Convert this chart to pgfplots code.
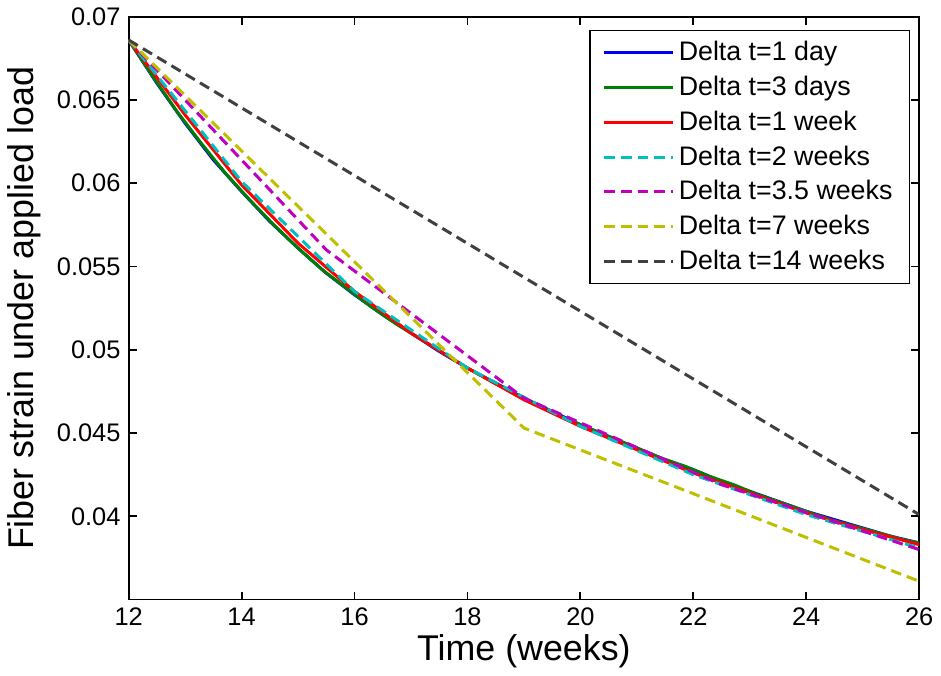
\documentclass[border=0pt]{standalone}
\usepackage{fontspec}
\setmainfont{Liberation Sans}
\usepackage{pgfplots}
\pgfplotsset{compat=1.18}

\definecolor{mblue}{rgb}{0,0,1}
\definecolor{mgreen}{rgb}{0,0.5,0}
\definecolor{mred}{rgb}{1,0,0}
\definecolor{mcyan}{rgb}{0,0.75,0.75}
\definecolor{mmagenta}{rgb}{0.75,0,0.75}
\definecolor{myellow}{rgb}{0.75,0.75,0}
\definecolor{mgray}{rgb}{0.25,0.25,0.25}

\begin{document}
\begin{tikzpicture}
\begin{axis}[
  width=12.03cm, height=8.87cm, scale only axis,
  xmin=12, xmax=26, ymin=0.035, ymax=0.07,
  xtick={12,14,...,26},
  ytick={0.04,0.045,0.05,0.055,0.06,0.065,0.07},
  yticklabels={0.04,0.045,0.05,0.055,0.06,0.065,0.07},
  scaled y ticks=false,
  tick align=inside, major tick length=0.12cm,
  axis line style={line width=0.8pt},
  every tick/.style={black, line width=0.8pt},
  /pgf/number format/assume math mode=true,
  tick label style={font=\fontsize{11}{13}\selectfont},
  label style={font=\fontsize{15.5}{18}\selectfont},
  xlabel={Time (weeks)},
  ylabel={Fiber strain under applied load},
  xlabel style={yshift=3pt},
  legend style={at={(0.989,0.978)}, anchor=north east, draw=black,
    line width=0.6pt, fill=white, font=\fontsize{11.6}{14}\selectfont,
    row sep=1.1pt, inner xsep=5.5pt, inner ysep=2.6pt},
  legend cell align=left,
  legend style={cells={text height=8.5pt, text depth=2.5pt, inner ysep=3.6pt}},
  legend image code/.code={\draw[#1] (0cm,0cm) -- (1.04cm,0cm);},
  every axis plot/.append style={line width=1.3pt},
  mdash/.style={dash pattern=on 4.6pt off 2.6pt},
]
% Delta t = 1 day
\addplot[mblue] coordinates {
(12,0.0686)(12.5,0.0660)(13,0.0636)(13.5,0.0614)(14,0.0595)(14.5,0.0577)
(15,0.0561)(15.5,0.0546)(16,0.0533)(16.5,0.0521)(17,0.0510)(17.5,0.0499)
(18,0.0489)(18.5,0.0480)(19,0.0471)(19.5,0.0463)(20,0.0455)(20.5,0.0448)
(21,0.0441)(21.5,0.0434)(22,0.0428)(22.5,0.0421)(23,0.0415)(23.5,0.0409)
(24,0.0403)(24.5,0.0398)(25,0.0393)(25.5,0.0388)(26,0.0384)
};
\addlegendentry{Delta t=1 day}
% Delta t = 3 days
\addplot[mgreen] coordinates {
(12,0.0686)(12.429,0.0664)(12.857,0.0643)(13.286,0.0624)(13.714,0.0606)
(14.143,0.0590)(14.571,0.0575)(15,0.0561)(15.429,0.0548)(15.857,0.0537)
(16.286,0.0526)(16.714,0.0516)(17.143,0.0507)(17.571,0.0498)(18,0.0489)
(18.429,0.0481)(18.857,0.0473)(19.286,0.0466)(19.714,0.0459)(20.143,0.0453)
(20.571,0.0447)(21,0.0441)(21.429,0.0435)(21.857,0.0430)(22.286,0.0424)
(22.714,0.0419)(23.143,0.0413)(23.571,0.0408)(24,0.0403)(24.429,0.0398)
(24.857,0.0394)(25.286,0.0390)(25.714,0.0386)(26,0.0384)
};
\addlegendentry{Delta t=3 days}
% Delta t = 1 week
\addplot[mred] coordinates {
(12,0.0686)(13,0.0641)(14,0.0599)(15,0.0564)(16,0.0535)(17,0.0510)
(18,0.0489)(19,0.0470)(20,0.0454)(21,0.0440)(22,0.0426)(23,0.0414)
(24,0.0402)(25,0.0392)(26,0.0383)
};
\addlegendentry{Delta t=1 week}
% Delta t = 2 weeks
\addplot[mcyan, mdash] coordinates {
(12,0.0686)(14,0.0601)(16,0.0535)(18,0.0489)(20,0.0454)(22,0.0425)
(24,0.0401)(26,0.0381)
};
\addlegendentry{Delta t=2 weeks}
% Delta t = 3.5 weeks
\addplot[mmagenta, mdash] coordinates {
(12,0.0686)(15.5,0.0560)(19,0.0471)(22.5,0.0419)(26,0.0380)
};
\addlegendentry{Delta t=3.5 weeks}
% Delta t = 7 weeks
\addplot[myellow, mdash] coordinates {
(12,0.0686)(19,0.0453)(26,0.0361)
};
\addlegendentry{Delta t=7 weeks}
% Delta t = 14 weeks
\addplot[mgray, mdash] coordinates {
(12,0.0686)(26,0.0401)
};
\addlegendentry{Delta t=14 weeks}
\end{axis}
\end{tikzpicture}
\end{document}
